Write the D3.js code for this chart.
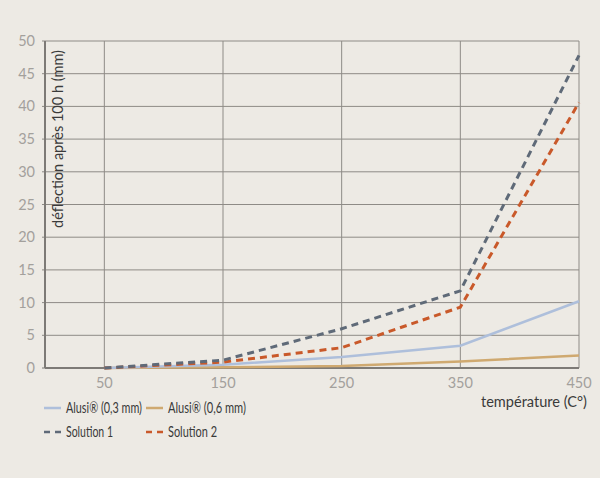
<!DOCTYPE html>
<html><head><meta charset="utf-8">
<script src="https://cdn.jsdelivr.net/npm/d3@7"></script>
<style>body{margin:0;background:#edeae4;}svg{display:block;font-family:Lato,"Open Sans",sans-serif;}</style>
</head><body><svg id="c" width="600" height="478"></svg>
<script>
const temps = [50, 150, 250, 350, 450];
const alusi03 = [0, 0.5, 1.7, 3.4, 10.2];
const alusi06 = [0, 0.1, 0.3, 1.0, 1.9];
const solution1 = [0, 1.2, 6.0, 11.8, 47.8];
const solution2 = [0, 0.9, 3.1, 9.3, 40.6];
const seriesNames = ["Alusi® (0,3 mm)", "Alusi® (0,6 mm)", "Solution 1", "Solution 2"];
const yTicks = [0,5,10,15,20,25,30,35,40,45,50];
const xTicks = [50,150,250,350,450];

const svg = d3.select("#c");
const x = d3.scaleLinear().domain([0,450]).range([45,579]);
const y = d3.scaleLinear().domain([0,50]).range([368,41]);

svg.append("rect").attr("width",600).attr("height",478).attr("fill","#edeae4");

const g = svg.append("g");
g.selectAll("line.h").data(yTicks.slice(1)).join("line")
 .attr("x1",42).attr("x2",x(450)).attr("y1",d=>y(d)).attr("y2",d=>y(d))
 .attr("stroke","#8e8b86").attr("stroke-width",1);
g.selectAll("line.v").data(xTicks).join("line")
 .attr("x1",d=>x(d)).attr("x2",d=>x(d)).attr("y1",y(50)).attr("y2",y(0))
 .attr("stroke","#8e8b86").attr("stroke-width",1);
g.append("line").attr("x1",x(0)).attr("x2",x(0)).attr("y1",y(50)).attr("y2",y(0)).attr("stroke","#7d7a76").attr("stroke-width",2);
g.append("line").attr("x1",x(0)).attr("x2",x(450)).attr("y1",y(0)).attr("y2",y(0)).attr("stroke","#7d7a76").attr("stroke-width",2);
g.append("line").attr("x1",42).attr("x2",x(0)).attr("y1",y(0)).attr("y2",y(0)).attr("stroke","#7d7a76").attr("stroke-width",1);

svg.selectAll("text.yt").data(yTicks).join("text")
 .attr("x",35).attr("y",d=>y(d)+5).attr("text-anchor","end")
 .attr("font-size",14.5).attr("fill","#a3a09c").text(d=>d);
svg.selectAll("text.xt").data(xTicks).join("text")
 .attr("x",d=>x(d)).attr("y",388).attr("text-anchor","middle")
 .attr("font-size",14.5).attr("fill","#a3a09c").text(d=>d);

svg.append("text").attr("transform","translate(63,228) rotate(-90)")
 .attr("font-size",15.5).attr("fill","#3a3a3a")
 .attr("textLength",178).attr("lengthAdjust","spacingAndGlyphs")
 .text("déflection après 100 h (mm)");
svg.append("text").attr("x",481).attr("y",407)
 .attr("font-size",15.5).attr("fill","#3a3a3a")
 .attr("textLength",106).attr("lengthAdjust","spacingAndGlyphs")
 .text("température (C°)");

const line = d3.line().x((d,i)=>x(temps[i])).y(d=>y(d));
const series = [
 {v:alusi06, c:"#cfa970", dash:null, w:2.5},
 {v:alusi03, c:"#aebfdb", dash:null, w:2.5},
 {v:solution2, c:"#c9592a", dash:"7,5", w:3},
 {v:solution1, c:"#5f6a78", dash:"7,5", w:3}
];
series.forEach(s=>{
 svg.append("path").attr("d",line(s.v)).attr("fill","none")
  .attr("stroke",s.c).attr("stroke-width",s.w).attr("stroke-dasharray",s.dash);
});

const leg = [
 {i:0, c:"#aebfdb", dash:null, x:44, y:408, tl:76},
 {i:1, c:"#cfa970", dash:null, x:146, y:408, tl:78},
 {i:2, c:"#5f6a78", dash:"6,5", x:44, y:432, tl:47},
 {i:3, c:"#c9592a", dash:"6,5", x:146, y:432, tl:49}
];
leg.forEach(l=>{
 svg.append("line").attr("x1",l.x).attr("x2",l.x+17).attr("y1",l.y).attr("y2",l.y)
  .attr("stroke",l.c).attr("stroke-width",2.5).attr("stroke-dasharray",l.dash);
 svg.append("text").attr("x",l.x+22).attr("y",l.y+5).attr("font-size",15)
  .attr("fill","#3a3a3a").attr("textLength",l.tl).attr("lengthAdjust","spacingAndGlyphs")
  .text(seriesNames[l.i]);
});
</script></body></html>
